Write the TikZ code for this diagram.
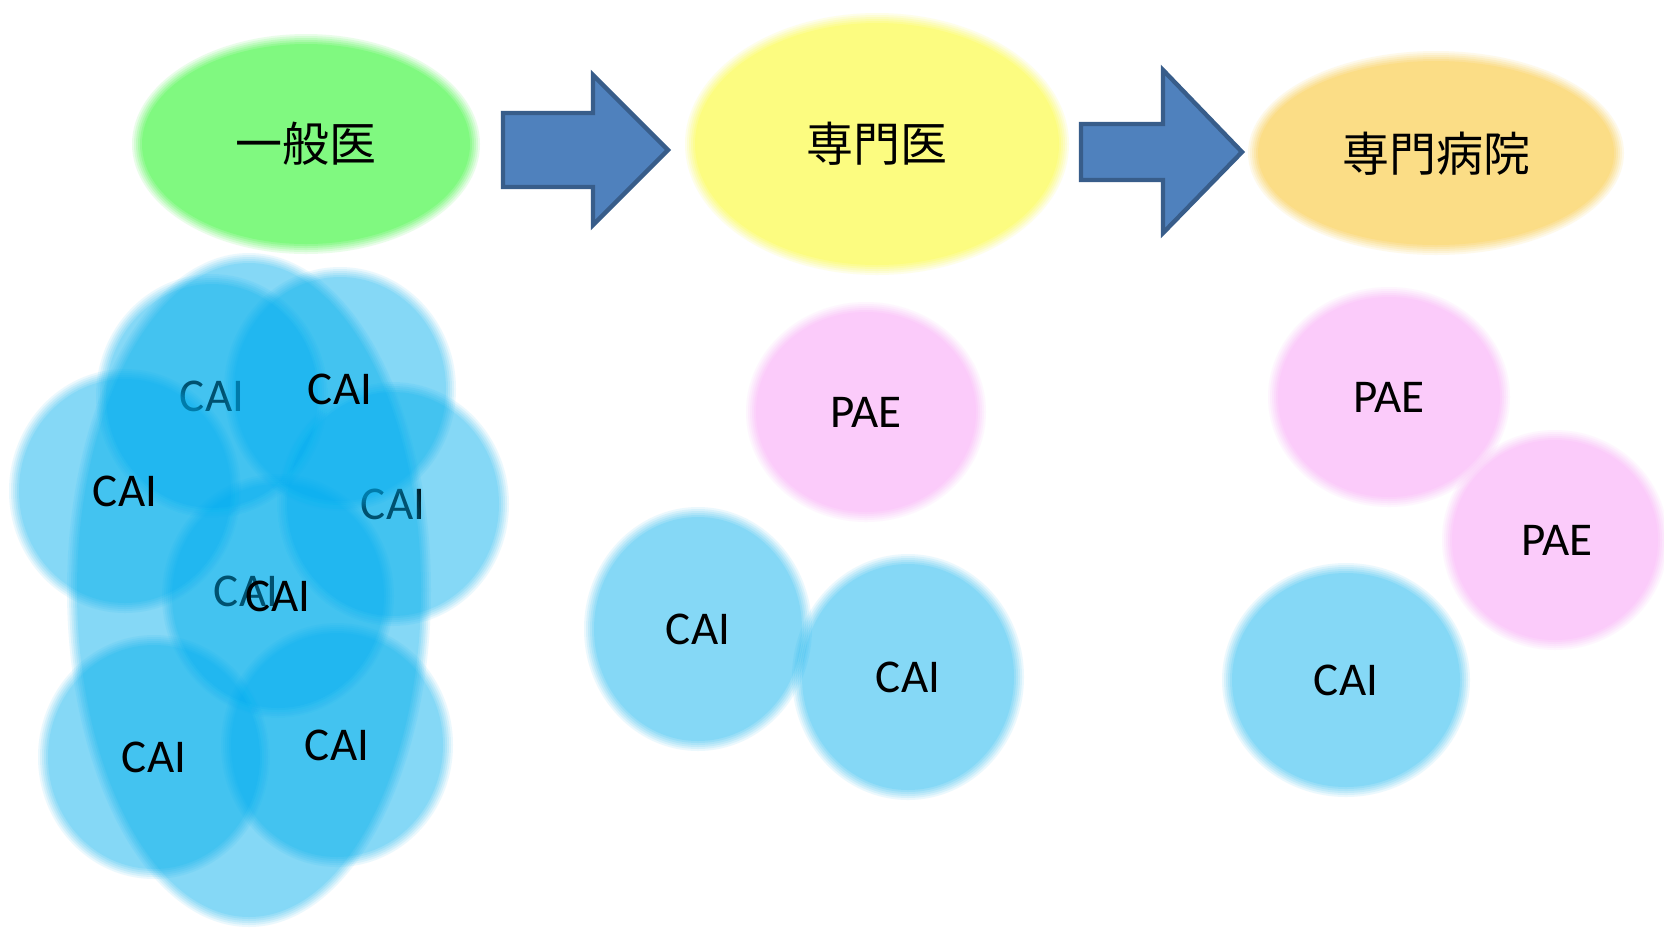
\documentclass[tikz,border=0pt]{standalone}
\usepackage{fontspec}
\setmainfont{Carlito}
\newfontfamily\cjk{Noto Sans CJK JP}
\definecolor{caiblue}{RGB}{0,176,240}
\definecolor{paepink}{RGB}{251,203,250}
\definecolor{gpgreen}{RGB}{128,249,128}
\definecolor{spyellow}{RGB}{252,252,128}
\definecolor{hsorange}{RGB}{251,221,134}
\definecolor{arrowfill}{RGB}{79,129,189}
\definecolor{arrowline}{RGB}{56,93,138}
% soft-edged (blurred) ellipses: layered fills whose cumulative opacity rises inward
\newcommand{\opaquesoft}[4]{% colour, centre, x radius (pt), y radius (pt)
  \foreach \dd/\aa in {2.5/0.1667, 1.5/0.2, 0.5/0.25, -0.5/0.3333, -1.5/0.5, -2.5/1}
    {\fill[#1, fill opacity=\aa] #2 ellipse [x radius={(#3+\dd)*1pt}, y radius={(#4+\dd)*1pt}];}}
\newcommand{\glasssoft}[4]{% colour at 47% overall opacity
  \foreach \dd/\aa in {2.5/0.0783, 1.5/0.0850, 0.5/0.0929, -0.5/0.1024, -1.5/0.1141, -2.5/0.1288}
    {\fill[#1, fill opacity=\aa] #2 ellipse [x radius={(#3+\dd)*1pt}, y radius={(#4+\dd)*1pt}];}}
\tikzset{
  lbl/.style={font=\fontsize{23.5}{28}\selectfont, text=black, inner sep=0pt},
  jlbl/.style={font=\cjk\fontsize{23.5}{28}\selectfont, text=black, inner sep=0pt},
  blockarrow/.style={fill=arrowfill, draw=arrowline, line width=2.2pt, line join=miter}
}
\begin{document}
\begin{tikzpicture}[x=0.5pt,y=-0.5pt]
\useasboundingbox (0,0) rectangle (1664,928);
\fill[white] (0,0) rectangle (1664,928);

% top ellipses
\opaquesoft{gpgreen}{(306,144)}{84.5}{52.5}
\node[jlbl] (gp) at (306,144) {一般医};
\opaquesoft{spyellow}{(877,144)}{93.5}{63}
\node[jlbl] (sp) at (877,144) {専門医};
\opaquesoft{hsorange}{(1436,153)}{91.5}{48.5}
\node[jlbl] (hs) at (1436,154) {専門病院};

% block arrows
\draw[blockarrow] (503,113) -- (593,113) -- (593,75) -- (668,150) -- (593,225) -- (593,187) -- (503,187) -- cycle;
\draw[blockarrow] (1081,124) -- (1163,124) -- (1163,70) -- (1242,152) -- (1163,233) -- (1163,180) -- (1081,180) -- cycle;

% left cluster
\glasssoft{caiblue}{(212,396)}{55.5}{58.5}
\node[lbl] (l1) at (212,396) {CAI};
\glasssoft{caiblue}{(393,504)}{55.5}{58.5}
\node[lbl] (l2) at (393,504) {CAI};
\glasssoft{caiblue}{(249,590)}{88.5}{166}
\node[lbl] (l3) at (246,591) {CAI};
\glasssoft{caiblue}{(340,389)}{55.5}{58.5}
\node[lbl] (l4) at (340,389) {CAI};
\glasssoft{caiblue}{(125,491)}{55.5}{58.5}
\node[lbl] (l5) at (125,491) {CAI};
\glasssoft{caiblue}{(278,596)}{55.5}{58.5}
\node[lbl] (l6) at (278,596) {CAI};
\glasssoft{caiblue}{(154,757)}{55.5}{58.5}
\node[lbl] (l7) at (154,757) {CAI};
\glasssoft{caiblue}{(337,745)}{55.5}{58.5}
\node[lbl] (l8) at (337,745) {CAI};

% middle group
\opaquesoft{paepink}{(866,412)}{57.5}{52.5}
\node[lbl] (m1) at (866,412) {PAE};
\glasssoft{caiblue}{(698,629)}{54.5}{58.5}
\node[lbl] (m2) at (698,629) {CAI};
\glasssoft{caiblue}{(908,677)}{55.5}{59}
\node[lbl] (m3) at (908,677) {CAI};

% right group
\opaquesoft{paepink}{(1389,397)}{58}{52.5}
\node[lbl] (r1) at (1389,397) {PAE};
\opaquesoft{paepink}{(1555,540)}{54}{52.5}
\node[lbl] (r2) at (1557,540) {PAE};
\glasssoft{caiblue}{(1346,680)}{59.5}{56}
\node[lbl] (r3) at (1346,680) {CAI};
\end{tikzpicture}
\end{document}
